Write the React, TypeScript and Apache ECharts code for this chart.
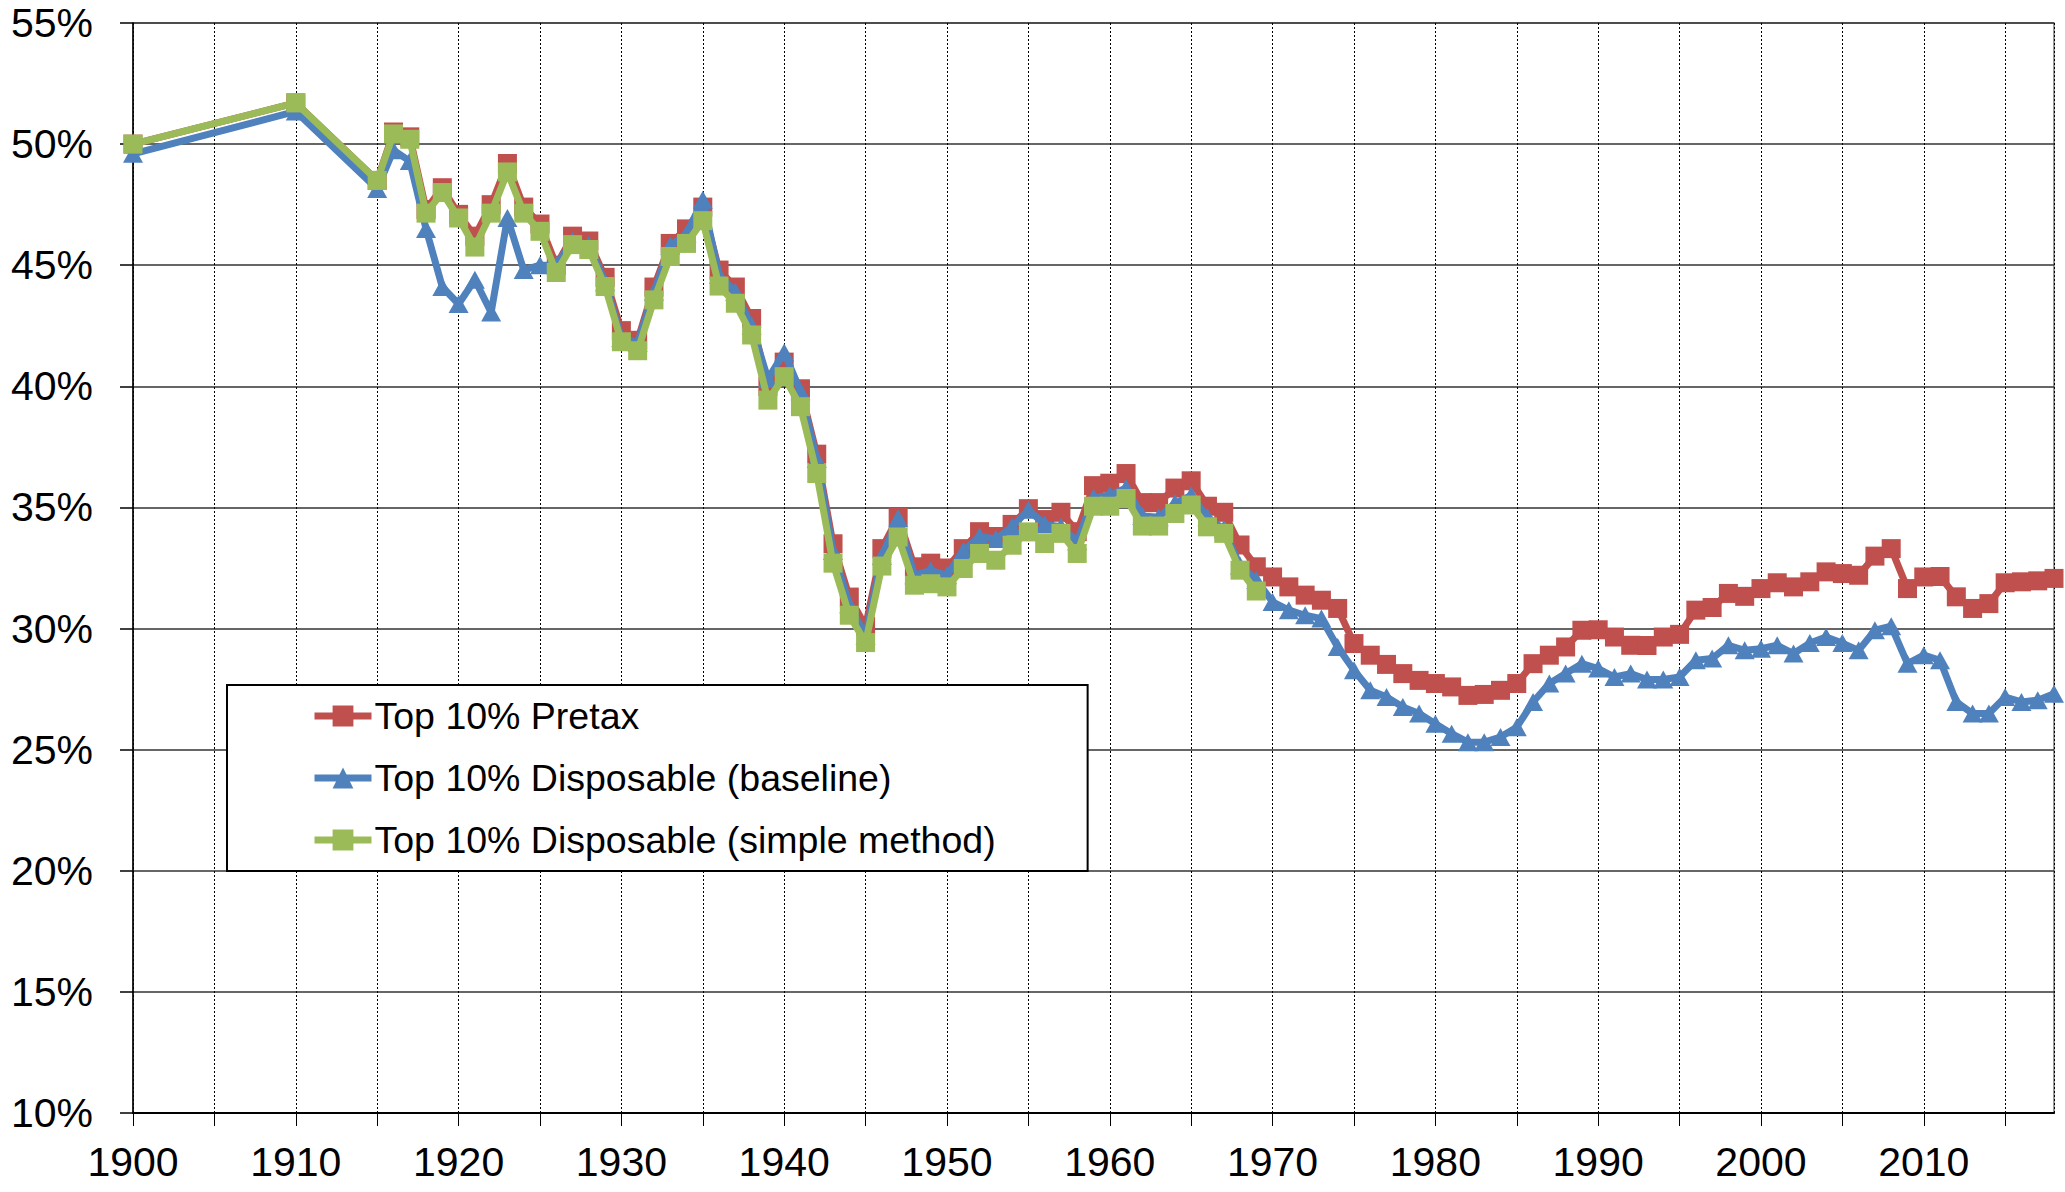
import React, { useEffect, useRef } from "react";
import * as echarts from "echarts";

const years = [
  1900, 1910, 1915, 1916, 1917, 1918, 1919, 1920, 1921, 1922, 1923, 1924, 1925, 1926, 1927, 1928, 1929,
  1930, 1931, 1932, 1933, 1934, 1935, 1936, 1937, 1938, 1939, 1940, 1941, 1942, 1943, 1944, 1945, 1946,
  1947, 1948, 1949, 1950, 1951, 1952, 1953, 1954, 1955, 1956, 1957, 1958, 1959, 1960, 1961, 1962, 1963,
  1964, 1965, 1966, 1967, 1968, 1969, 1970, 1971, 1972, 1973, 1974, 1975, 1976, 1977, 1978, 1979, 1980,
  1981, 1982, 1983, 1984, 1985, 1986, 1987, 1988, 1989, 1990, 1991, 1992, 1993, 1994, 1995, 1996, 1997,
  1998, 1999, 2000, 2001, 2002, 2003, 2004, 2005, 2006, 2007, 2008, 2009, 2010, 2011, 2012, 2013, 2014,
  2015, 2016, 2017, 2018,
];

const pretax = [
  50.0, 51.7, 48.5, 50.5, 50.3, 47.3, 48.2, 47.1, 46.2, 47.5, 49.2, 47.4, 46.7, 45.0, 46.2, 46.0, 44.5,
  42.3, 41.9, 44.1, 45.9, 46.5, 47.4, 44.8, 44.1, 42.8, 40.0, 41.0, 39.9, 37.2, 33.5, 31.3, 30.1, 33.3,
  34.6, 32.55, 32.7, 32.5, 33.3, 34.0, 33.8, 34.3, 34.95, 34.5, 34.8, 34.0, 35.9, 36.0, 36.4, 35.2, 35.2,
  35.8, 36.1, 35.05, 34.8, 33.45, 32.55, 32.13, 31.72, 31.38, 31.17, 30.83, 29.38, 28.9, 28.52, 28.14, 27.86, 27.73,
  27.59, 27.24, 27.28, 27.45, 27.73, 28.55, 28.9, 29.24, 29.93, 29.95, 29.65, 29.31, 29.3, 29.65, 29.76, 30.76, 30.87,
  31.45, 31.33, 31.65, 31.89, 31.72, 31.93, 32.34, 32.27, 32.2, 32.99, 33.3, 31.65, 32.13, 32.15, 31.31, 30.83, 31.03,
  31.89, 31.93, 31.97, 32.07,
];

const disposableBaseline = [
  49.6, 51.35, 48.15, 49.75, 49.3, 46.5, 44.1, 43.4, 44.4, 43.05, 46.95, 44.8, 45.0, 45.0, 46.0, 45.85, 44.3,
  42.0, 41.8, 43.9, 45.8, 46.3, 47.7, 44.6, 43.9, 42.5, 40.3, 41.4, 39.8, 37.0, 33.2, 31.0, 29.7, 33.0,
  34.55, 32.2, 32.4, 32.2, 33.2, 33.8, 33.7, 34.2, 34.9, 34.3, 34.2, 33.6, 35.4, 35.5, 35.8, 34.65, 34.6,
  35.17, 35.5, 34.6, 34.1, 32.6, 32.0, 31.1, 30.76, 30.55, 30.41, 29.24, 28.28, 27.45, 27.17, 26.76, 26.49, 26.07,
  25.66, 25.31, 25.31, 25.52, 25.93, 26.97, 27.73, 28.14, 28.55, 28.35, 28.0, 28.14, 27.9, 27.9, 28.0, 28.69, 28.76,
  29.31, 29.1, 29.17, 29.31, 28.97, 29.4, 29.65, 29.4, 29.1, 29.93, 30.1, 28.55, 28.9, 28.69, 26.97, 26.49, 26.49,
  27.17, 26.97, 27.04, 27.31,
];

// simple method series stops in 1969
const disposableSimple = [
  50.0, 51.7, 48.5, 50.42, 50.2, 47.15, 48.0, 46.95, 45.75, 47.15, 48.85, 47.15, 46.4, 44.7, 45.85, 45.65, 44.12,
  41.84, 41.47, 43.57, 45.36, 45.9, 46.84, 44.14, 43.43, 42.12, 39.43, 40.4, 39.16, 36.4, 32.7, 30.55, 29.42, 32.58,
  33.78, 31.79, 31.85, 31.72, 32.48, 33.1, 32.82, 33.44, 33.99, 33.51, 33.93, 33.1, 35.05, 35.05, 35.37, 34.23, 34.23,
  34.75, 35.1, 34.2, 33.93, 32.41, 31.55,
];

const seriesNames = [
  "Top 10% Pretax",
  "Top 10% Disposable (baseline)",
  "Top 10% Disposable (simple method)",
];

const FONT = "'Liberation Sans', Arial, sans-serif";

export default function App() {
  const ref = useRef<HTMLDivElement>(null);

  useEffect(() => {
    if (!ref.current) return;
    const chart = echarts.init(ref.current, undefined, { renderer: "svg" });

    const toPairs = (vals: number[]) => vals.map((v, i) => [years[i], v]);

    chart.setOption({
      animation: false,
      backgroundColor: "#ffffff",
      grid: {
        left: 133,
        right: 11,
        top: 23,
        bottom: 79,
        show: true,
        borderColor: "#777777",
        borderWidth: 1.5,
        backgroundColor: "transparent",
      },
      legend: {
        orient: "vertical",
        left: 227,
        top: 685,
        padding: [12, 92, 12, 84],
        itemGap: 24,
        itemWidth: 57,
        itemHeight: 26,
        borderColor: "#000000",
        borderWidth: 2,
        backgroundColor: "#ffffff",
        data: seriesNames,
        lineStyle: { width: 7 },
        textStyle: { fontSize: 37.5, fontFamily: FONT, color: "#000000", padding: [0, 0, 0, -2] },
      },
      xAxis: {
        type: "value",
        min: 1900,
        max: 2018,
        interval: 5,
        axisLine: { show: true, onZero: false, lineStyle: { color: "#000000", width: 2 } },
        axisTick: { show: true, inside: false, length: 13, lineStyle: { color: "#000000", width: 1 } },
        axisLabel: {
          fontSize: 41,
          fontFamily: FONT,
          color: "#000000",
          margin: 28,
          showMaxLabel: false,
          formatter: (v: number) => (v % 10 === 0 ? String(v) : ""),
        },
        splitLine: { show: true, lineStyle: { color: "#000000", width: 1, type: [2, 2] } },
      },
      yAxis: {
        type: "value",
        min: 10,
        max: 55,
        interval: 5,
        axisLine: { show: true, lineStyle: { color: "#000000", width: 1.5 } },
        axisTick: { show: true, inside: false, length: 13, lineStyle: { color: "#000000", width: 1.5 } },
        axisLabel: {
          fontSize: 41,
          fontFamily: FONT,
          color: "#000000",
          margin: 40,
          formatter: "{value}%",
        },
        splitLine: { show: true, lineStyle: { color: "#333333", width: 1.5 } },
      },
      series: [
        {
          name: seriesNames[0],
          type: "line",
          data: toPairs(pretax),
          symbol: "rect",
          symbolSize: 19,
          color: "#C0504D",
          lineStyle: { width: 7, color: "#C0504D" },
          itemStyle: { color: "#C0504D" },
          z: 2,
        },
        {
          name: seriesNames[1],
          type: "line",
          data: toPairs(disposableBaseline),
          symbol: "triangle",
          symbolSize: [20, 18],
          color: "#4F81BD",
          lineStyle: { width: 7, color: "#4F81BD" },
          itemStyle: { color: "#4F81BD" },
          z: 3,
        },
        {
          name: seriesNames[2],
          type: "line",
          data: toPairs(disposableSimple),
          symbol: "rect",
          symbolSize: 19,
          color: "#9BBB59",
          lineStyle: { width: 7, color: "#9BBB59" },
          itemStyle: { color: "#9BBB59" },
          z: 4,
        },
      ],
    });

    return () => chart.dispose();
  }, []);

  return (
    <div
      ref={ref}
      style={{ position: "absolute", left: 0, top: 0, width: 2065, height: 1192 }}
    />
  );
}
